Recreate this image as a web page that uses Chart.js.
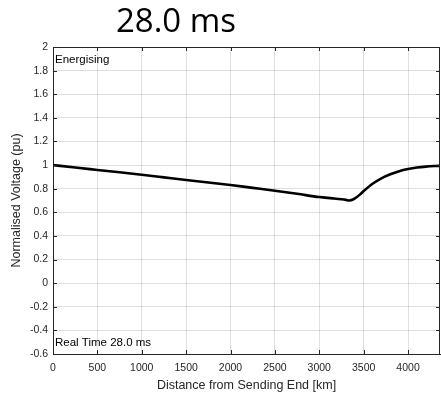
<!doctype html>
<html>

<head>
    <meta charset="utf-8" />
    <title>28.0 ms</title>
    <script src="https://cdn.jsdelivr.net/npm/chart.js@4.4.1/dist/chart.umd.min.js"></script>
    <style>
        html, body { margin: 0; padding: 0; background: #fff; }
        #wrap { position: relative; width: 441px; height: 393px; }
        #title {
            position: absolute; left: 76px; top: -3px; width: 200px; text-align: center;
            font-family: "Open Sans", sans-serif; font-size: 33px; color: #000;
        }
        canvas { position: absolute; left: 0; top: 0; }
    </style>
</head>

<body>
    <div id="wrap">
        <canvas id="myChart" width="441" height="393"></canvas>
        <div id="title">28.0 ms</div>
    </div>
    <script>
        // distance along the line (km) and normalised voltage (pu)
        var distance = [0, 250, 500, 750, 1000, 1250, 1500, 1750, 2000, 2250, 2500, 2750, 3000,
            3150, 3250, 3300, 3340, 3380, 3420, 3460, 3500, 3600, 3700, 3800, 3900, 4000, 4100, 4200, 4300, 4360];
        var voltage = [1.0, 0.979, 0.959, 0.939, 0.918, 0.896, 0.874, 0.853, 0.831, 0.807, 0.783, 0.757, 0.729,
            0.718, 0.710, 0.705, 0.700, 0.708, 0.727, 0.752, 0.780, 0.842, 0.888, 0.922, 0.948, 0.966, 0.979, 0.987, 0.992, 0.994];

        var xTicks = [0, 500, 1000, 1500, 2000, 2500, 3000, 3500, 4000];
        var yTicks = [-0.6, -0.4, -0.2, 0, 0.2, 0.4, 0.6, 0.8, 1, 1.2, 1.4, 1.6, 1.8, 2];
        var xMax = 4360;

        var topLabel = "Energising";
        var bottomLabel = "Real Time 28.0 ms";

        var axisColor = "#262626";
        var gridColor = "rgba(38,38,38,0.15)";

        // MATLAB-like box: top/right border, inward ticks, corner texts
        var boxPlugin = {
            id: "box",
            afterDatasetsDraw: function (chart) {
                var ctx = chart.ctx, a = chart.chartArea;
                var xs = chart.scales.x, ys = chart.scales.y;
                var t = 4;
                ctx.save();
                ctx.strokeStyle = axisColor;
                ctx.lineWidth = 1;
                ctx.beginPath();
                ctx.moveTo(a.left, a.top + 0.5); ctx.lineTo(a.right, a.top + 0.5);
                ctx.moveTo(a.right - 0.5, a.top); ctx.lineTo(a.right - 0.5, a.bottom);
                xTicks.forEach(function (v) {
                    var px = Math.round(xs.getPixelForValue(v)) + 0.5;
                    ctx.moveTo(px, a.bottom); ctx.lineTo(px, a.bottom - t);
                    ctx.moveTo(px, a.top); ctx.lineTo(px, a.top + t);
                });
                yTicks.forEach(function (v) {
                    var py = Math.round(ys.getPixelForValue(v)) + 0.5;
                    ctx.moveTo(a.left, py); ctx.lineTo(a.left + t, py);
                    ctx.moveTo(a.right, py); ctx.lineTo(a.right - t, py);
                });
                ctx.stroke();

                ctx.fillStyle = "#000";
                ctx.font = '11.5px "Liberation Sans", Arial, sans-serif';
                ctx.textAlign = "left";
                ctx.textBaseline = "middle";
                ctx.fillText(topLabel, a.left + 2, a.top + 13);
                ctx.fillText(bottomLabel, a.left + 2, a.bottom - 11);
                ctx.restore();
            }
        };

        var tickFont = { family: '"Liberation Sans", Arial, sans-serif', size: 10.5 };
        var titleFont = { family: '"Liberation Sans", Arial, sans-serif', size: 12.5, lineHeight: 1.2 };

        var chart = new Chart(document.getElementById("myChart"), {
            type: "line",
            data: {
                datasets: [{
                    label: "Voltage",
                    data: distance.map(function (d, i) { return { x: d, y: voltage[i] }; }),
                    borderColor: "#000",
                    borderWidth: 2.6,
                    pointRadius: 0,
                    fill: false,
                    cubicInterpolationMode: "monotone"
                }]
            },
            options: {
                responsive: false,
                animation: false,
                layout: { padding: { top: 47, right: 1, bottom: 0, left: 0 } },
                plugins: { legend: { display: false }, tooltip: { enabled: false }, title: { display: false } },
                scales: {
                    x: {
                        type: "linear",
                        min: 0, max: xMax,
                        afterBuildTicks: function (s) { s.ticks = xTicks.map(function (v) { return { value: v }; }); },
                        afterFit: function (s) { s.height = 39; },
                        grid: { color: gridColor, drawTicks: false },
                        border: { color: axisColor, width: 1 },
                        ticks: {
                            color: axisColor, font: tickFont, padding: 8, maxRotation: 0, autoSkip: false,
                            callback: function (v) { return String(v); }
                        },
                        title: {
                            display: true, text: "Distance from Sending End [km]", color: axisColor,
                            font: titleFont, padding: { top: 0, bottom: 0 }
                        }
                    },
                    y: {
                        type: "linear",
                        min: -0.6, max: 2,
                        afterBuildTicks: function (s) { s.ticks = yTicks.map(function (v) { return { value: v }; }); },
                        afterFit: function (s) { s.width = 53; },
                        grid: { color: gridColor, drawTicks: false },
                        border: { color: axisColor, width: 1 },
                        ticks: {
                            color: axisColor, font: tickFont, padding: 5, autoSkip: false,
                            callback: function (v) { return String(Number(v.toFixed(1))); }
                        },
                        title: {
                            display: true, text: "Normalised Voltage (pu)", color: axisColor,
                            font: titleFont, padding: { top: 9, bottom: 0 }
                        }
                    }
                }
            },
            plugins: [boxPlugin]
        });
    </script>
</body>

</html>
